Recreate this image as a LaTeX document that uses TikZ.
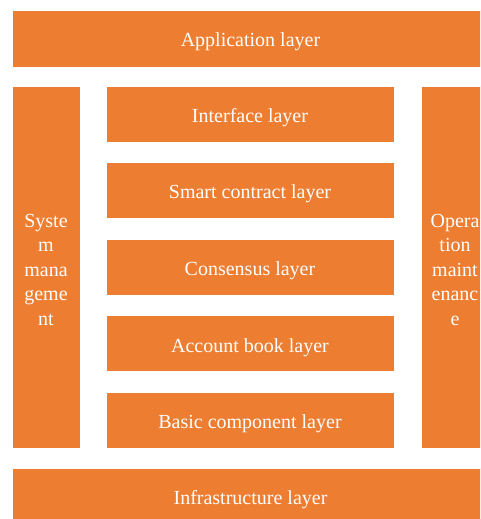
\documentclass[tikz,border=0pt]{standalone}
\usepackage{fontspec}
\setmainfont{Liberation Serif}
\usepackage{tikz}
\usetikzlibrary{positioning}
\definecolor{naranja}{RGB}{237, 125, 49}

\begin{document}
\begin{tikzpicture}[
  x=1pt, y=-1pt,
  lyr/.style  = {
    rectangle, draw=white, fill=naranja, line width=0.8pt,
    inner sep=0pt, outer sep=0pt, text=white,
    font=\fontsize{20}{24.5}\selectfont
  },
  wide/.style = {lyr, minimum width=477pt, minimum height=57pt,
                 text height=16.6pt, text depth=0pt},
  mid/.style  = {lyr, minimum width=288pt, minimum height=56pt,
                 text height=16.6pt, text depth=0pt},
  col/.style  = {lyr, minimum width=68pt, minimum height=362pt,
                 align=center, text height=116pt, text depth=0pt},
  node distance = 20.6pt
]
\useasboundingbox (0,0) rectangle (480,519);
\clip (0,0) rectangle (480,519);

% Capas extremas
\node[wide] (app)   at (250.5,38.5)  {Application layer};
\node[wide] (infra) at (250.5,496.5) {Infrastructure layer};

% Columnas laterales
\node[col] (sysm) at (46,267)  {Syste\\m\\mana\\geme\\nt};
\node[col] (opm)  at (455,267) {Opera\\tion\\maint\\enanc\\e};

% Pila central
\node[mid] (iface)  at (250,114)    {Interface layer};
\node[mid, below=of iface] (smart)  {Smart contract layer};
\node[mid, below=of smart] (cons)   {Consensus layer};
\node[mid, below=of cons]  (ledger) {Account book layer};
\node[mid, below=of ledger](basic)  {Basic component layer};

\end{tikzpicture}
\end{document}
